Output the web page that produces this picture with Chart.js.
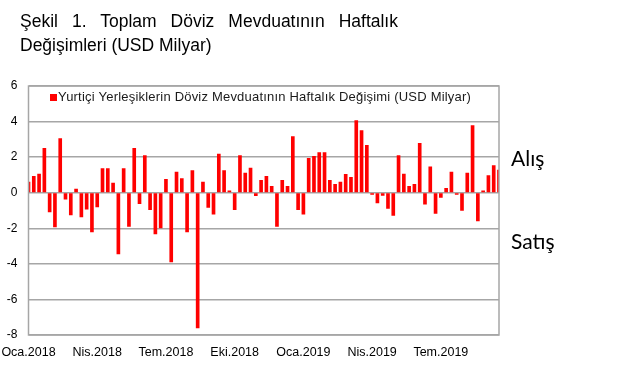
<!DOCTYPE html>
<html>
<head>
<meta charset="utf-8">
<script src="https://cdn.jsdelivr.net/npm/chart.js@4/dist/chart.umd.min.js"></script>
<style>
  html, body { margin:0; padding:0; background:#fff; }
  #wrap { position:relative; width:642px; height:373px; overflow:hidden; }
  canvas { position:absolute; left:0; top:0; }
  .title { position:absolute; left:20px; font-family:"Liberation Sans", Arial, sans-serif; font-size:17.5px; color:#000; white-space:nowrap; }
  #t1 { top:11px; width:378px; text-align:justify; text-align-last:justify; white-space:normal; }
  #t2 { top:35px; }
  .side { position:absolute; left:511px; font-family:Lato, "Open Sans", sans-serif; font-size:21px; color:#000; }
</style>
</head>
<body>
<div id="wrap">
  <canvas id="c" width="642" height="373"></canvas>
  <div class="title" id="t1">Şekil 1. Toplam Döviz Mevduatının Haftalık</div>
  <div class="title" id="t2">Değişimleri (USD Milyar)</div>
  <div class="side" style="top:145px;">Alış</div>
  <div class="side" style="top:228px;">Satış</div>
</div>
<script>
const seriesName = "Yurtiçi Yerleşiklerin Döviz Mevduatının Haftalık Değişimi (USD Milyar)";
const tickLabels = ["Oca.2018","Nis.2018","Tem.2018","Eki.2018","Oca.2019","Nis.2019","Tem.2019"];
const weeksPerTick = 13;
const weeklyChange = [
  0.6, 0.92, 1.05, 2.49, -1.08, -1.93, 3.05, -0.36, -1.25, 0.2,
  -1.36, -0.92, -2.2, -0.8, 1.36, 1.36, 0.54, -3.44, 1.36, -1.89,
  2.49, -0.62, 2.09, -0.95, -2.32, -1.98, 0.75, -3.89, 1.16, 0.8,
  -2.2, 1.25, -7.6, 0.6, -0.82, -1.2, 2.17, 1.25, 0.11, -0.95,
  2.09, 1.1, 1.38, -0.17, 0.69, 0.92, 0.36, -1.89, 0.69, 0.36,
  3.16, -0.95, -1.2, 1.93, 2.04, 2.26, 2.26, 0.69, 0.47, 0.6,
  1.03, 0.86, 4.06, 3.5, 2.67, -0.09, -0.58, -0.15, -0.88, -1.27,
  2.09, 1.05, 0.36, 0.47, 2.77, -0.65, 1.46, -1.16, -0.26, 0.24,
  1.16, -0.09, -0.99, 1.1, 3.78, -1.59, 0.11, 0.97, 1.53, 1.27
];
const yMin = -8, yMax = 6, yStep = 2;

const labels = weeklyChange.map((v, i) => (i % weeksPerTick === 0 && tickLabels[i / weeksPerTick]) ? tickLabels[i / weeksPerTick] : "");

const frame = {
  id: "frame",
  afterDraw(chart) {
    const { ctx, chartArea: a } = chart;
    ctx.save();
    ctx.strokeStyle = "#a6a6a6";
    ctx.lineWidth = 1.5;
    ctx.strokeRect(a.left, a.top, a.right - a.left, a.bottom - a.top);
    // legend
    const x0 = 50, yC = 97.5;
    ctx.fillStyle = "#ff0000";
    ctx.fillRect(x0, yC - 3.5, 7, 7);
    ctx.fillStyle = "#1a1a1a";
    ctx.font = "13px 'Liberation Sans', Arial, sans-serif";
    try { ctx.letterSpacing = "0.2px"; } catch (e) {}
    ctx.textBaseline = "middle";
    ctx.textAlign = "left";
    ctx.fillText(seriesName, x0 + 8, yC);
    ctx.restore();
  }
};

new Chart(document.getElementById("c"), {
  type: "bar",
  data: {
    labels: labels,
    datasets: [{
      label: seriesName,
      data: weeklyChange,
      backgroundColor: "#ff0000",
      borderWidth: 0,
      barThickness: 3
    }]
  },
  options: {
    responsive: false,
    animation: false,
    layout: { padding: { top: 86, right: 143, left: 0, bottom: 0 } },
    plugins: { legend: { display: false }, tooltip: { enabled: false }, title: { display: false } },
    scales: {
      x: {
        offset: false,
        grid: { display: false, drawTicks: false },
        border: { display: false },
        ticks: {
          autoSkip: false, maxRotation: 0, minRotation: 0, padding: 10,
          color: "#000",
          font: { family: "'Liberation Sans', Arial, sans-serif", size: 12.5 }
        },
        afterFit(s) { s.height = 38; s.paddingLeft = 0; s.paddingRight = 0; }
      },
      y: {
        min: yMin, max: yMax,
        grid: { color: "#a6a6a6", lineWidth: 1.5, drawTicks: false },
        border: { display: false },
        ticks: {
          stepSize: yStep, padding: 11, color: "#000",
          font: { family: "'Liberation Sans', Arial, sans-serif", size: 12 }
        },
        afterFit(s) { s.width = 28.5; }
      }
    }
  },
  plugins: [frame]
});
</script>
</body>
</html>
